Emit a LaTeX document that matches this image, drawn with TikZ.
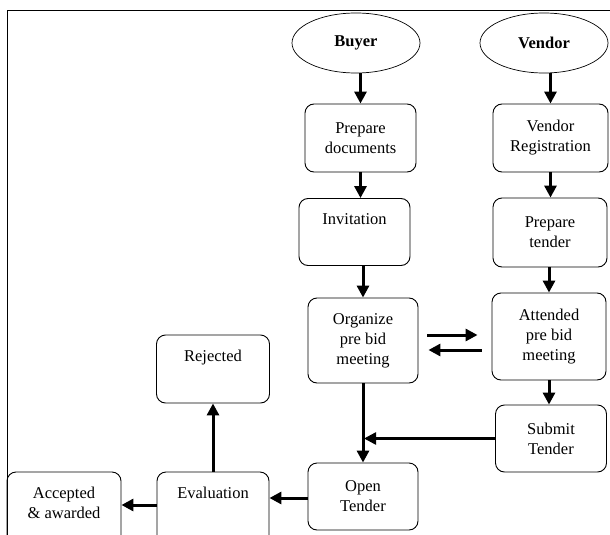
\documentclass[tikz,border=0pt]{standalone}
\usepackage{fontspec}
\setmainfont{Liberation Serif}
\usetikzlibrary{arrows.meta,shapes.geometric}

\begin{document}
\begin{tikzpicture}[x=1pt,y=-1pt,font=\fontsize{16.5}{20}\selectfont,
  box/.style={draw,rounded corners=9pt,line width=0.9pt,inner sep=0pt,align=center},
  actor/.style={draw,ellipse,line width=0.7pt,inner sep=0pt,minimum width=128pt,
    minimum height=60pt,font=\fontsize{16.5}{20}\selectfont\bfseries},
  flow/.style={line width=3pt,-{Triangle[length=12pt,width=12pt]}}]
  \useasboundingbox (0,0) rectangle (610,535);
  \clip (0,0) rectangle (610,535);
  % ---------- frame
  \draw[line width=1pt] (7,540) -- (7,11) -- (615,11);
  % ---------- actors
  \node[actor] (buyer) at (356,43) {Buyer};
  \node[actor] (vendor) at (544,43) {Vendor};
  % ---------- steps
  \foreach \n/\x/\y/\w/\h/\t in {
    prep/360.5/138/111/68/{Prepare\\documents},
    reg/550.5/138/115/68/{Vendor\\Registration},
    invite/354.5/232/111/67/{Invitation\\\strut},
    tender/550/232.5/114/69/{Prepare\\tender},
    organize/363/340.5/110/85/{Organize\\pre bid\\meeting},
    attend/549/336.5/114/87/{Attended\\pre bid\\meeting},
    submit/551/438.5/111/67/{Submit\\Tender},
    open/363/496.5/110/67/{Open\\Tender},
    reject/213/369/113/68/{Rejected\\\strut},
    eval/213/516/112/88/{Evaluation\\\strut\\\strut},
    accept/64/516/114/88/{Accepted\\\& awarded\\\strut}}
    \node[box,minimum width=\w,minimum height=\h] (\n) at (\x,\y) {\t};
  % ---------- buyer side
  \draw[flow] (prep.north |- buyer.south) -- (prep.north);
  \draw[flow] (prep.south) -- (prep.south |- invite.north);
  \draw[flow] (organize.north |- invite.south) -- (organize.north);
  \draw[flow] (organize.south) -- (open.north);
  % ---------- vendor side
  \draw[flow] (reg.north |- vendor.south) -- (reg.north);
  \draw[flow] (reg.south) -- (reg.south |- tender.north);
  \draw[flow] (attend.north |- tender.south) -- (attend.north);
  \draw[flow] (attend.south) -- (attend.south |- submit.north);
  % ---------- pre bid meeting, both ways
  \draw[flow,shorten <=9pt,shorten >=14pt] ([yshift=5.5pt]organize.east) -- ([yshift=5.5pt]organize.east -| attend.west);
  \draw[flow,shorten <=10pt,shorten >=10pt] ([yshift=-9.5pt]organize.east -| attend.west) -- ([yshift=-9.5pt]organize.east);
  \coordinate (join) at (organize.south |- submit.west);
  \draw[flow,line width=2.5pt,shorten >=1pt] (submit.west) -- (join);
  % ---------- evaluation
  \draw[flow] ([yshift=-1.5pt]open.west) -- ([yshift=-1.5pt]open.west -| eval.east);
  \draw[flow] ([yshift=11pt]eval.west) -- ([yshift=11pt]eval.west -| accept.east);
  \draw[flow] (eval.north) -- (reject.south);
\end{tikzpicture}
\end{document}
